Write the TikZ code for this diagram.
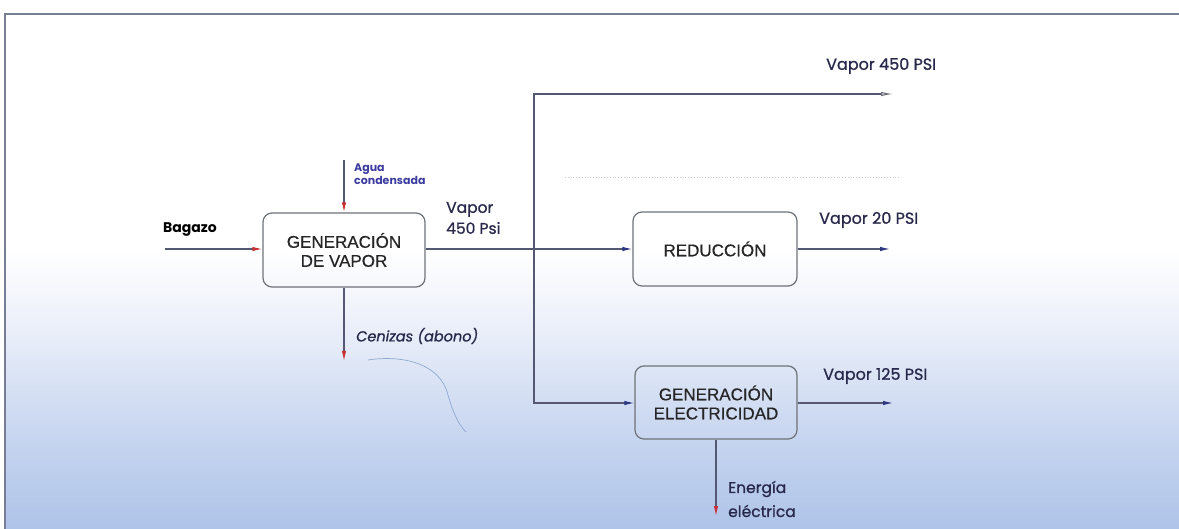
\documentclass[tikz,border=0pt]{standalone}
\usepackage{fontspec}
\setmainfont{Liberation Sans}
\newfontfamily\boxf[FakeBold=0.6]{Liberation Sans}
\newfontfamily\lab[FakeBold=0.9]{Poppins}
\newfontfamily\labb{Poppins}
\usetikzlibrary{arrows.meta}
\definecolor{bgblue}{RGB}{135,166,218}
\definecolor{bgb2}{RGB}{155,182,226}
\definecolor{bgb3}{RGB}{196,211,239}
\definecolor{bgb4}{RGB}{236,240,250}
\definecolor{framec}{RGB}{120,125,150}
\definecolor{linec}{RGB}{85,88,115}
\definecolor{boxc}{RGB}{110,115,120}
\definecolor{headb}{RGB}{45,55,130}
\definecolor{headr}{RGB}{200,50,50}
\definecolor{headg}{RGB}{110,110,120}
\definecolor{labc}{RGB}{40,40,75}
\definecolor{aguac}{RGB}{60,60,160}
\pgfdeclareverticalshading{bgshade}{100bp}{color(0bp)=(bgblue); color(18bp)=(bgb2); color(33bp)=(bgb3); color(45bp)=(bgb4); color(52bp)=(white); color(100bp)=(white)}
\tikzset{
  proc/.style={draw=boxc, line width=1.2pt, rounded corners=9pt, align=center, font=\boxf\fontsize{17}{19}\selectfont, text=black!85},
  conn/.style={draw=linec, line width=1.1pt},
  toblue/.style={conn, -{Latex[length=10pt,width=4.5pt,color=headb]}},
  tored/.style={conn, -{Latex[length=10pt,width=4.5pt,color=headr]}},
  togray/.style={conn, -{Latex[length=12pt,width=4.5pt,color=headg,open]}},
  lbl/.style={font=\lab\fontsize{16}{18}\selectfont, text=labc, inner sep=0pt, anchor=west},
}
\begin{document}
\begin{tikzpicture}[x=1pt,y=-1pt]
\useasboundingbox (0,0) rectangle (1179,529);
\fill[white] (0,0) rectangle (1179,529);
\shade[shading=bgshade] (5,14) rectangle (1179,529);
\draw[framec, line width=1.6pt] (5,529) -- (5,14) -- (1179,14);
% faint scan artefacts
\draw[gray!40, line width=0.8pt, dotted] (565,177) -- (900,177);
\draw[black!8!bgb2, line width=0.7pt] (368,360) .. controls (400,355) and (440,362) .. (448,395) .. controls (455,420) and (462,428) .. (466,432);

% nodes
\node[proc, minimum width=162pt, minimum height=74pt] (gv) at (344,250) {GENERACIÓN\\DE VAPOR};
\node[proc, minimum width=164pt, minimum height=74pt] (red) at (715,249) {REDUCCIÓN};
\node[proc, minimum width=162pt, minimum height=73pt] (ge) at (716,402.5) {GENERACIÓN\\ELECTRICIDAD};

\coordinate (bstart) at (165,249);
\coordinate (astart) at (344,160);
\coordinate (cend) at (344,361);
\coordinate (split) at (534,249);
\coordinate (tcorner) at (534,94);
\coordinate (bcorner) at (534,403);
\coordinate (e450) at (893,94);
\coordinate (e20) at (890,249);
\coordinate (e125) at (893,403);
\coordinate (eend) at (716,516);

% connectors
\draw[tored] (bstart) -- (gv.west |- bstart);
\draw[tored] (astart) -- (gv.north);
\draw[tored] (gv.south) -- (cend);
\draw[toblue] (gv.east |- split) -- (red.west |- split);
\draw[togray] (split) -- (tcorner) -- (e450);
\draw[toblue] (split) -- (bcorner) -- (ge.west |- bcorner);
\draw[toblue] (red.east |- e20) -- (e20);
\draw[toblue] (ge.east |- e125) -- (e125);
\draw[tored] (ge.south) -- (eend);

% labels
\node[lbl, font=\labb\bfseries\fontsize{14}{16}\selectfont, text=black] (lbag) at (163,230) {Bagazo};
\node[lbl, font=\labb\bfseries\fontsize{11}{13}\selectfont, text=aguac, align=left] (lagua) at (354,174) {Agua\\condensada};
\node[lbl, align=left, font=\lab\fontsize{15.5}{21}\selectfont] (lv450) at (446,218) {Vapor\\450 Psi};
\node[lbl, font=\lab\itshape\fontsize{14.5}{16}\selectfont] (lcen) at (356,336) {Cenizas (abono)};
\node[lbl] (l450) at (826,66) {Vapor 450 PSI};
\node[lbl] (l20) at (819,220) {Vapor 20 PSI};
\node[lbl] (l125) at (823,376) {Vapor 125 PSI};
\node[lbl, align=left, font=\lab\fontsize{15.5}{24}\selectfont] (lee) at (728,499) {Energía\\eléctrica};
\end{tikzpicture}
\end{document}
